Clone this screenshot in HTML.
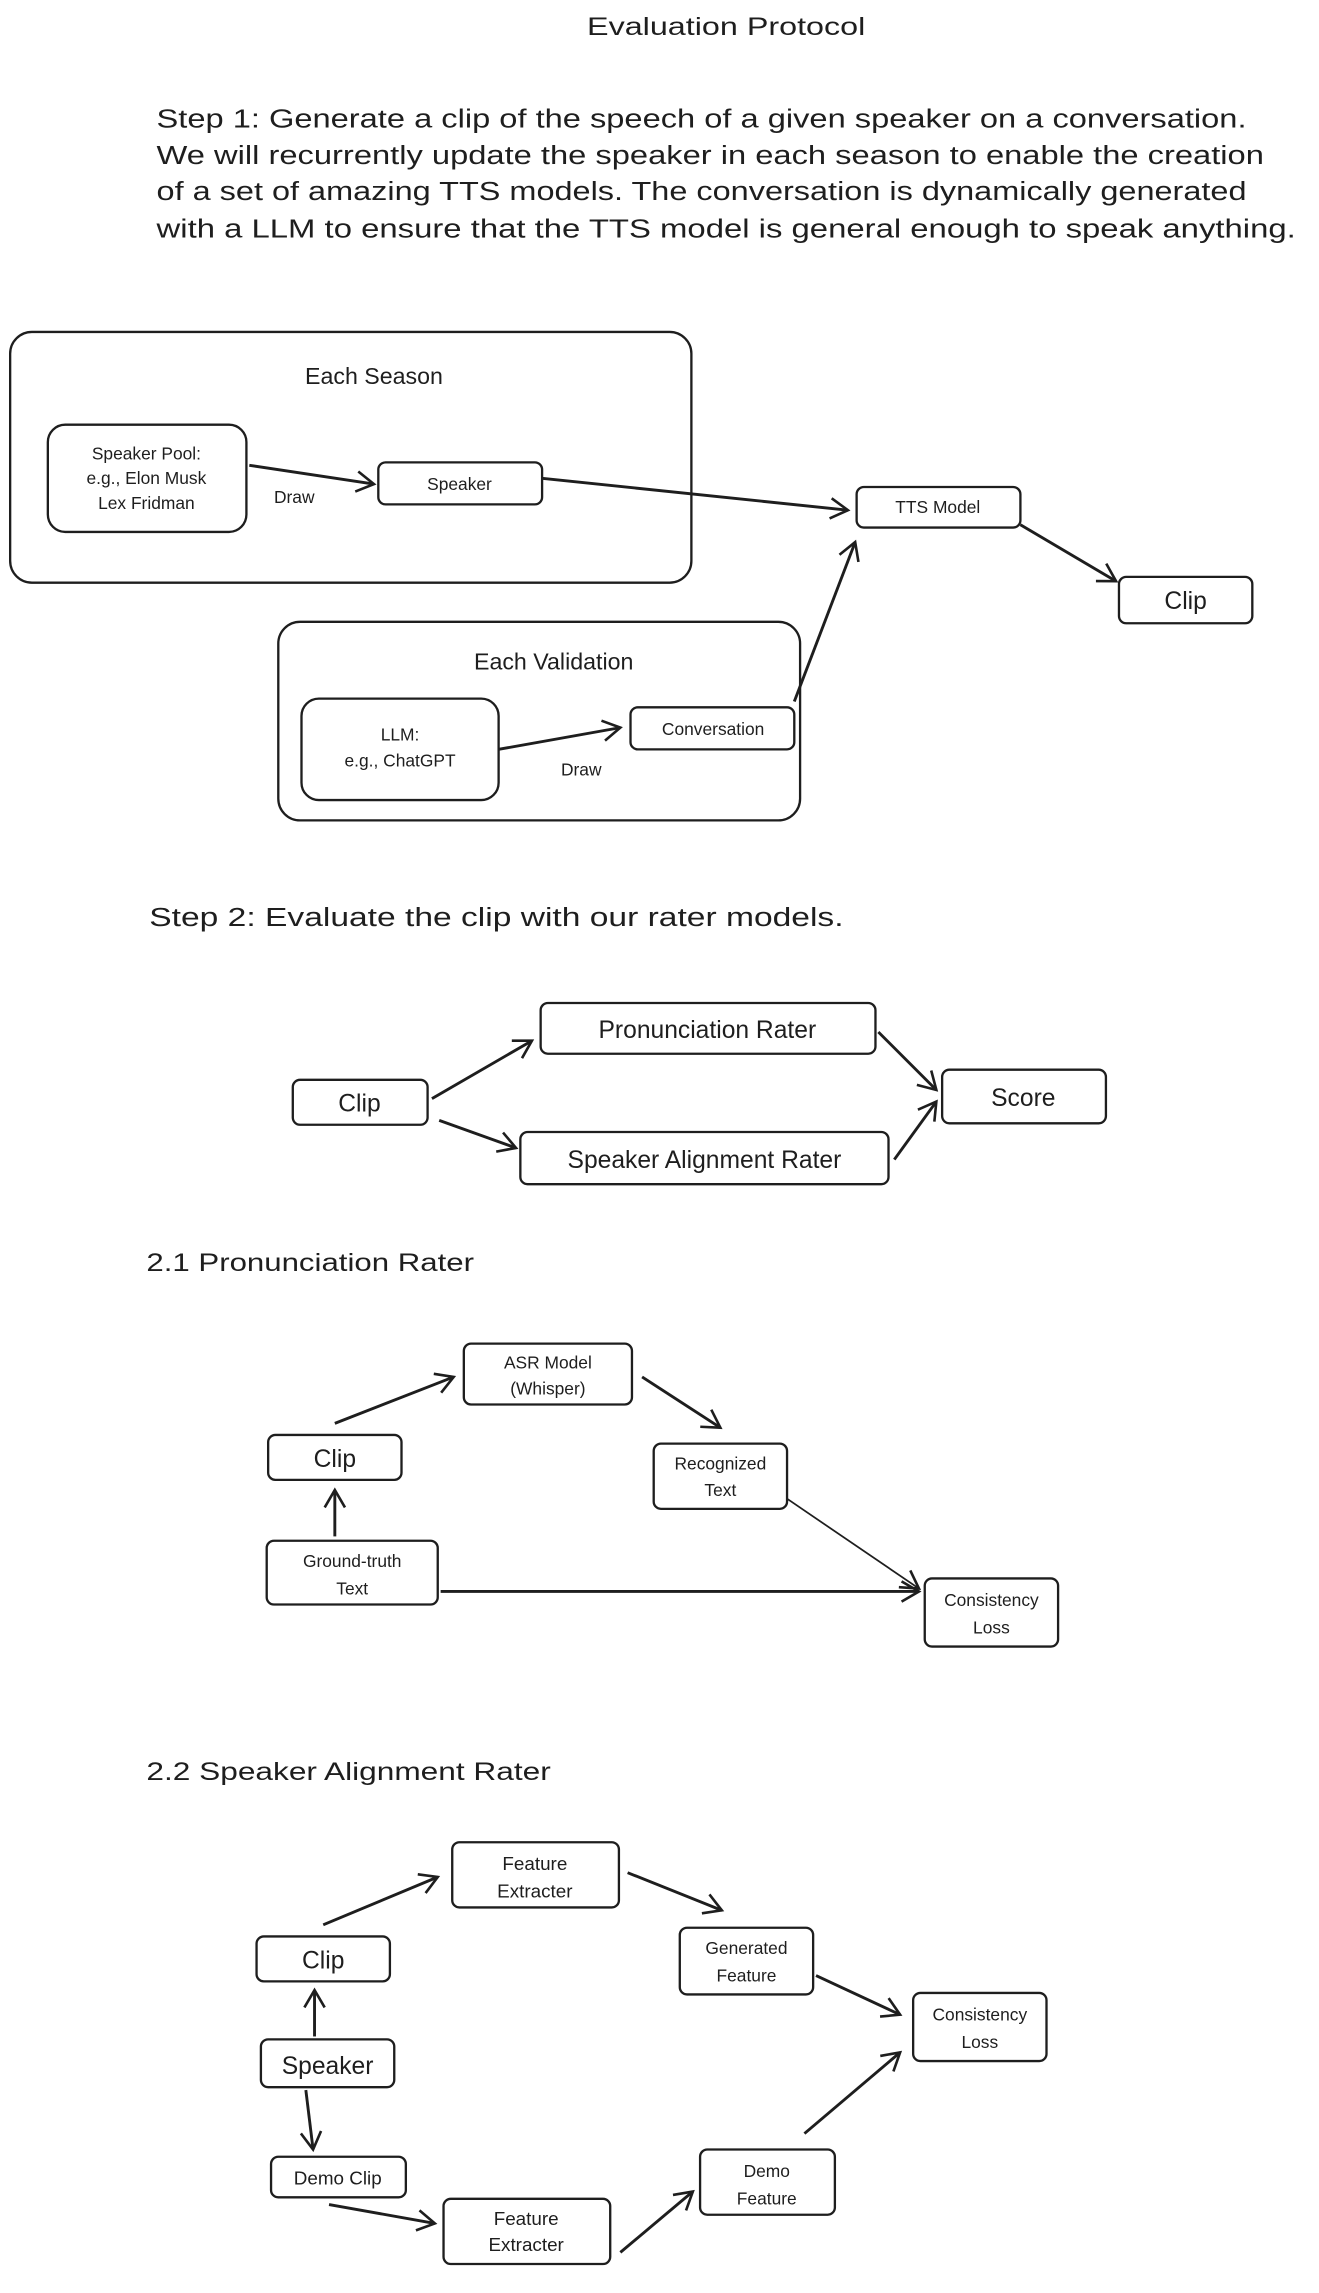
<!DOCTYPE html>
<html><head><meta charset="utf-8"><style>
html,body{margin:0;padding:0;background:#fff}
svg{display:block}
text{font-family:"Liberation Sans","DejaVu Sans",sans-serif;fill:#1e1e1e}
.b{fill:none;stroke:#1e1e1e;stroke-width:1.6}
.a{fill:none;stroke:#1e1e1e;stroke-width:2;marker-end:url(#m)}
.t{stroke-width:1.2}
</style></head><body>
<svg width="1319" height="2293" viewBox="0 0 910 1582" xmlns="http://www.w3.org/2000/svg">
<defs><marker id="m" markerUnits="userSpaceOnUse" markerWidth="20" markerHeight="20" refX="14" refY="10" orient="auto"><path d="M2,3 L14,10 L2,17" fill="none" stroke="#1e1e1e" stroke-width="1.8"/></marker></defs>
<rect width="910" height="1582" fill="#fff"/>
<text x="501" y="24" font-size="17" text-anchor="middle" textLength="192" lengthAdjust="spacingAndGlyphs">Evaluation Protocol</text>
<g font-size="18">
<text x="108" y="88" textLength="752" lengthAdjust="spacingAndGlyphs">Step 1: Generate a clip of the speech of a given speaker on a conversation.</text>
<text x="108" y="113" textLength="764" lengthAdjust="spacingAndGlyphs">We will recurrently update the speaker in each season to enable the creation</text>
<text x="108" y="138" textLength="752" lengthAdjust="spacingAndGlyphs">of a set of amazing TTS models. The conversation is dynamically generated</text>
<text x="108" y="164" textLength="786" lengthAdjust="spacingAndGlyphs">with a LLM to ensure that the TTS model is general enough to speak anything.</text>
</g>
<!-- step1 diagram -->
<rect class="b" x="7" y="229" width="470" height="173" rx="15"/>
<text x="258" y="265" font-size="16" text-anchor="middle">Each Season</text>
<rect class="b" x="33" y="293" width="137" height="74" rx="12"/>
<g font-size="12" text-anchor="middle"><text x="101" y="317">Speaker Pool:</text><text x="101" y="334">e.g., Elon Musk</text><text x="101" y="351">Lex Fridman</text></g>
<line class="a" x1="172" y1="321" x2="258" y2="334"/>
<text x="203" y="347" font-size="12" text-anchor="middle">Draw</text>
<rect class="b" x="261" y="319" width="113" height="29" rx="5"/>
<text x="317" y="338" font-size="12" text-anchor="middle">Speaker</text>
<line class="a" x1="374" y1="330" x2="585" y2="352"/>
<rect class="b" x="591" y="336" width="113" height="28" rx="5"/>
<text x="647" y="354" font-size="12" text-anchor="middle">TTS Model</text>
<line class="a" x1="704" y1="362" x2="770" y2="401"/>
<rect class="b" x="772" y="398" width="92" height="32" rx="5"/>
<text x="818" y="420" font-size="17" text-anchor="middle">Clip</text>
<rect class="b" x="192" y="429" width="360" height="137" rx="15"/>
<text x="382" y="462" font-size="16" text-anchor="middle">Each Validation</text>
<rect class="b" x="208" y="482" width="136" height="70" rx="12"/>
<g font-size="12" text-anchor="middle"><text x="276" y="511">LLM:</text><text x="276" y="529">e.g., ChatGPT</text></g>
<line class="a" x1="344" y1="517" x2="428" y2="502"/>
<text x="401" y="535" font-size="12" text-anchor="middle">Draw</text>
<rect class="b" x="435" y="488" width="113" height="29" rx="5"/>
<text x="492" y="507" font-size="12" text-anchor="middle">Conversation</text>
<line class="a" x1="548" y1="484" x2="590" y2="374"/>
<!-- step 2 -->
<text x="103" y="639" font-size="18" textLength="479" lengthAdjust="spacingAndGlyphs">Step 2: Evaluate the clip with our rater models.</text>
<rect class="b" x="373" y="692" width="231" height="35" rx="5"/>
<text x="488" y="716" font-size="17" text-anchor="middle">Pronunciation Rater</text>
<rect class="b" x="202" y="745" width="93" height="31" rx="5"/>
<text x="248" y="767" font-size="17" text-anchor="middle">Clip</text>
<rect class="b" x="359" y="781" width="254" height="36" rx="5"/>
<text x="486" y="806" font-size="17" text-anchor="middle">Speaker Alignment Rater</text>
<rect class="b" x="650" y="738" width="113" height="37" rx="5"/>
<text x="706" y="763" font-size="17" text-anchor="middle">Score</text>
<line class="a" x1="298" y1="758" x2="367" y2="718"/>
<line class="a" x1="303" y1="773" x2="356" y2="792"/>
<line class="a" x1="606" y1="712" x2="646" y2="752"/>
<line class="a" x1="617" y1="800" x2="646" y2="760"/>
<!-- 2.1 -->
<text x="101" y="877" font-size="17" textLength="226" lengthAdjust="spacingAndGlyphs">2.1 Pronunciation Rater</text>
<rect class="b" x="320" y="927" width="116" height="42" rx="5"/>
<g font-size="12" text-anchor="middle"><text x="378" y="944">ASR Model</text><text x="378" y="962">(Whisper)</text></g>
<rect class="b" x="185" y="990" width="92" height="31" rx="5"/>
<text x="231" y="1012" font-size="17" text-anchor="middle">Clip</text>
<rect class="b" x="451" y="996" width="92" height="45" rx="5"/>
<g font-size="12" text-anchor="middle"><text x="497" y="1014">Recognized</text><text x="497" y="1032">Text</text></g>
<rect class="b" x="184" y="1063" width="118" height="44" rx="5"/>
<g font-size="12" text-anchor="middle"><text x="243" y="1081">Ground-truth</text><text x="243" y="1100">Text</text></g>
<rect class="b" x="638" y="1089" width="92" height="47" rx="5"/>
<g font-size="12" text-anchor="middle"><text x="684" y="1108">Consistency</text><text x="684" y="1127">Loss</text></g>
<line class="a" x1="231" y1="982" x2="313" y2="950"/>
<line class="a" x1="443" y1="950" x2="497" y2="985"/>
<line class="a" x1="231" y1="1060" x2="231" y2="1028"/>
<line class="a" x1="304" y1="1098" x2="634" y2="1098"/>
<line class="a t" x1="543" y1="1034" x2="634" y2="1096"/>
<!-- 2.2 -->
<text x="101" y="1228" font-size="17" textLength="279" lengthAdjust="spacingAndGlyphs">2.2 Speaker Alignment Rater</text>
<rect class="b" x="312" y="1271" width="115" height="45" rx="5"/>
<g font-size="13" text-anchor="middle"><text x="369" y="1290">Feature</text><text x="369" y="1309">Extracter</text></g>
<rect class="b" x="177" y="1336" width="92" height="31" rx="5"/>
<text x="223" y="1358" font-size="17" text-anchor="middle">Clip</text>
<rect class="b" x="469" y="1330" width="92" height="46" rx="5"/>
<g font-size="12" text-anchor="middle"><text x="515" y="1348">Generated</text><text x="515" y="1367">Feature</text></g>
<rect class="b" x="630" y="1375" width="92" height="47" rx="5"/>
<g font-size="12" text-anchor="middle"><text x="676" y="1394">Consistency</text><text x="676" y="1413">Loss</text></g>
<rect class="b" x="180" y="1407" width="92" height="33" rx="5"/>
<text x="226" y="1431" font-size="17" text-anchor="middle">Speaker</text>
<rect class="b" x="187" y="1488" width="93" height="28" rx="5"/>
<text x="233" y="1507" font-size="13" text-anchor="middle">Demo Clip</text>
<rect class="b" x="483" y="1483" width="93" height="45" rx="5"/>
<g font-size="12" text-anchor="middle"><text x="529" y="1502">Demo</text><text x="529" y="1521">Feature</text></g>
<rect class="b" x="306" y="1517" width="115" height="45" rx="5"/>
<g font-size="13" text-anchor="middle"><text x="363" y="1535">Feature</text><text x="363" y="1553">Extracter</text></g>
<line class="a" x1="223" y1="1328" x2="302" y2="1295"/>
<line class="a" x1="433" y1="1292" x2="498" y2="1318"/>
<line class="a" x1="563" y1="1363" x2="621" y2="1390"/>
<line class="a" x1="555" y1="1472" x2="621" y2="1416"/>
<line class="a" x1="217" y1="1405" x2="217" y2="1373"/>
<line class="a" x1="211" y1="1442" x2="216" y2="1483"/>
<line class="a" x1="227" y1="1521" x2="300" y2="1534"/>
<line class="a" x1="428" y1="1554" x2="478" y2="1512"/>
</svg>
</body></html>
